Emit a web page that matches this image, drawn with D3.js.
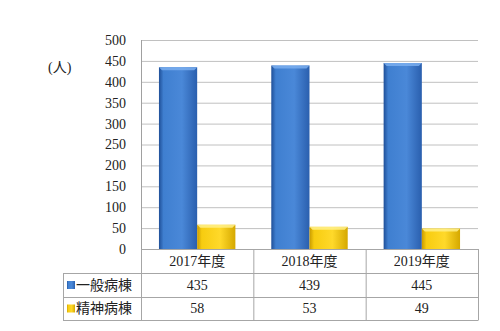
<!DOCTYPE html>
<html>
<head>
<meta charset="utf-8">
<script src="https://cdn.jsdelivr.net/npm/d3@7"></script>
<style>
  body { margin: 0; background: #fff; }
  text { font-family: "Liberation Serif", "Noto Sans CJK JP", serif; fill: #222; }
</style>
</head>
<body>
<svg id="chart" width="500" height="331"></svg>
<script>
const years = ["2017年度", "2018年度", "2019年度"];
const seriesNames = ["一般病棟", "精神病棟"];
const general = [435, 439, 445];
const psych = [58, 53, 49];
const yTicks = [0, 50, 100, 150, 200, 250, 300, 350, 400, 450, 500];

const series = [
    { name: seriesNames[0], values: general, id: "blue" },
    { name: seriesNames[1], values: psych, id: "yellow" }
];

const svg = d3.select("#chart");
const plot = { left: 141, right: 478, top: 40, bottom: 249 };
const rowH = [249, 273, 297, 320];
const tableLeft = 63;

const x = d3.scaleBand().domain(years).range([plot.left, plot.right]);
const xs = d3.scaleBand().domain(series.map(s => s.id)).range([0, x.bandwidth()]).paddingOuter(0.47);
const y = d3.scaleLinear().domain([0, 500]).range([plot.bottom, plot.top]);

// gradients
const defs = svg.append("defs");
const grads = {
    blue: ["#1f4f98", "#3f7fd0", "#4a88d8", "#2a5fae"],
    yellow: ["#c89a00", "#f7cc10", "#ffd92a", "#d5a800"]
};
Object.entries(grads).forEach(([k, c]) => {
    const g = defs.append("linearGradient").attr("id", "g-" + k)
        .attr("x1", 0).attr("x2", 1).attr("y1", 0).attr("y2", 0);
    g.append("stop").attr("offset", "0%").attr("stop-color", c[0]);
    g.append("stop").attr("offset", "12%").attr("stop-color", c[1]);
    g.append("stop").attr("offset", "60%").attr("stop-color", c[2]);
    g.append("stop").attr("offset", "100%").attr("stop-color", c[3]);
});

// gridlines
svg.append("g")
    .selectAll("line")
    .data(yTicks.filter(d => d > 0))
    .join("line")
    .attr("x1", plot.left).attr("x2", plot.right)
    .attr("y1", d => y(d) + 0.5).attr("y2", d => y(d) + 0.5)
    .attr("stroke", "#c0c0c0");

// y axis line
svg.append("line")
    .attr("x1", plot.left + 0.5).attr("x2", plot.left + 0.5)
    .attr("y1", plot.top).attr("y2", plot.bottom)
    .attr("stroke", "#a0a0a0");

// y labels
svg.append("g")
    .selectAll("text")
    .data(yTicks)
    .join("text")
    .attr("x", 126)
    .attr("y", d => y(d))
    .attr("dy", "0.35em")
    .attr("text-anchor", "end")
    .attr("font-size", 14)
    .text(d => d);

svg.append("text")
    .attr("x", 48).attr("y", 67)
    .attr("dy", "0.35em")
    .attr("font-size", 14)
    .text("(人)");

// bars
const groups = svg.append("g")
    .selectAll("g")
    .data(years)
    .join("g")
    .attr("transform", d => `translate(${x(d)},0)`);

groups.selectAll("g.bar")
    .data((d, i) => series.map(s => ({ id: s.id, v: s.values[i] })))
    .join("g")
    .attr("class", "bar")
    .each(function (d) {
        const g = d3.select(this);
        const bx = xs(d.id), bw = xs.bandwidth();
        const by = y(d.v), bh = plot.bottom - y(d.v);
        g.append("rect")
            .attr("x", bx).attr("y", by)
            .attr("width", bw).attr("height", bh)
            .attr("fill", `url(#g-${d.id})`);
        // top bevel
        g.append("path")
            .attr("d", `M${bx},${by} L${bx + bw},${by} L${bx + bw - 3},${by + 3} L${bx + 3},${by + 3} Z`)
            .attr("fill", d.id === "blue" ? "#7aaeee" : "#fff08a")
            .attr("opacity", 0.85);
    });

// table
const table = svg.append("g").attr("stroke", "#a6a6a6").attr("fill", "none");
table.append("line").attr("x1", plot.left).attr("x2", plot.right).attr("y1", rowH[0] + 0.5).attr("y2", rowH[0] + 0.5);
[1, 2, 3].forEach(i => {
    table.append("line").attr("x1", tableLeft).attr("x2", plot.right)
        .attr("y1", rowH[i] + 0.5).attr("y2", rowH[i] + 0.5);
});
table.append("line").attr("x1", tableLeft + 0.5).attr("x2", tableLeft + 0.5).attr("y1", rowH[1]).attr("y2", rowH[3] + 0.5);
years.forEach(yr => {
    table.append("line").attr("x1", x(yr) + 0.5).attr("x2", x(yr) + 0.5).attr("y1", rowH[0]).attr("y2", rowH[3] + 0.5);
});
table.append("line").attr("x1", plot.right + 0.5).attr("x2", plot.right + 0.5).attr("y1", rowH[0]).attr("y2", rowH[3] + 0.5);

// category labels
svg.append("g")
    .selectAll("text")
    .data(years)
    .join("text")
    .attr("x", d => x(d) + x.bandwidth() / 2)
    .attr("y", (rowH[0] + rowH[1]) / 2)
    .attr("dy", "0.35em")
    .attr("text-anchor", "middle")
    .attr("font-size", 14)
    .text(d => d);

// data rows
series.forEach((s, i) => {
    const cy = (rowH[i + 1] + rowH[i + 2]) / 2;
    svg.append("rect")
        .attr("x", 67).attr("y", cy - 4)
        .attr("width", 8).attr("height", 8)
        .attr("fill", `url(#g-${s.id})`);
    svg.append("text")
        .attr("x", 76).attr("y", cy)
        .attr("dy", "0.35em")
        .attr("font-size", 14)
        .text(s.name);
    svg.append("g")
        .selectAll("text")
        .data(s.values)
        .join("text")
        .attr("x", (d, j) => x(years[j]) + x.bandwidth() / 2)
        .attr("y", cy)
        .attr("dy", "0.35em")
        .attr("text-anchor", "middle")
        .attr("font-size", 14)
        .text(d => d);
});
</script>
</body>
</html>
